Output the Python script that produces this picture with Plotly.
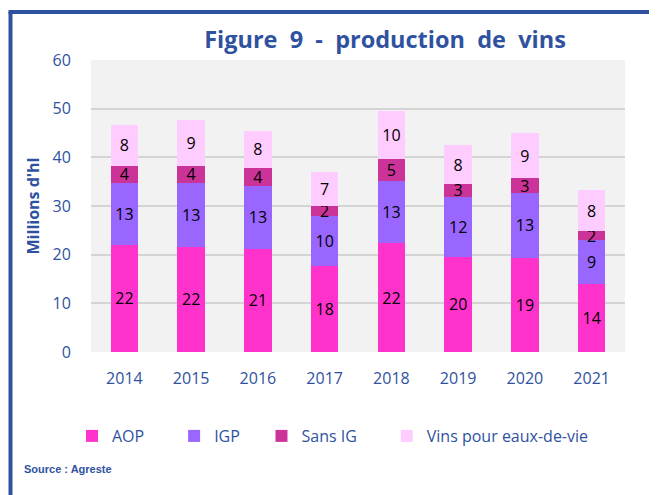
import plotly.graph_objects as go

years = ["2014", "2015", "2016", "2017", "2018", "2019", "2020", "2021"]
aop = [22.0, 21.6, 21.2, 17.6, 22.3, 19.6, 19.4, 13.9]
igp = [12.8, 13.2, 12.9, 10.3, 12.8, 12.3, 13.3, 9.1]
sans_ig = [3.5, 3.5, 3.8, 2.0, 4.6, 2.6, 3.0, 1.8]
vins_edv = [8.4, 9.4, 7.6, 7.0, 9.8, 8.0, 9.2, 8.4]
y_ticks = [0, 10, 20, 30, 40, 50, 60]

BLUE = "#2F52A0"
FONT = "Open Sans"
NB = "\u00a0"

series = [
    ("AOP", aop, "#FF33CC", 6),
    ("IGP", igp, "#9966FF", 4),
    ("Sans IG", sans_ig, "#CC3399", 6),
    ("Vins pour eaux-de-vie", vins_edv, "#FFCCFF", 0),
]

fig = go.Figure()
for name, vals, col, pad in series:
    fig.add_trace(go.Bar(
        x=years, y=vals, name=name + NB * pad,
        marker=dict(color=col, line=dict(width=0)),
        text=[f"{v:.0f}" for v in vals],
        textposition="inside", insidetextanchor="middle", textangle=0,
        textfont=dict(family=FONT, size=16, color="black"),
        cliponaxis=False,
    ))

# page body has an 8px margin: screen coordinate = figure coordinate + 8
OFF = 8
W, H = 657 - OFF, 495 - OFF
L, R, T, B = 91 - OFF, 32, 60 - OFF, 143
pw, ph = W - L - R, H - T - B

def px(x):  # screen x -> paper
    return (x - OFF - L) / pw

def py(y):  # screen y -> paper
    return (H - B - (y - OFF)) / ph

fig.update_layout(
    width=W, height=H,
    margin=dict(l=L, r=R, t=T, b=B, pad=0),
    barmode="stack", bargap=0.587,
    paper_bgcolor="white", plot_bgcolor="#F2F2F2",
    font=dict(family=FONT, color=BLUE, size=16),
    uniformtext=dict(mode="show", minsize=16),
    title=dict(text="<b>Figure  9  -  production  de  vins</b>",
               x=px(385), xanchor="center", xref="paper",
               y=1 - (40 - OFF) / H, yanchor="middle", yref="container",
               font=dict(family=FONT, size=23.5, color=BLUE)),
    xaxis=dict(showgrid=False, ticks="outside", ticklen=12, tickcolor="rgba(0,0,0,0)",
               tickfont=dict(size=16, color=BLUE), showline=False, zeroline=False),
    yaxis=dict(range=[0, 60], tickvals=y_ticks, showgrid=True, gridcolor="#D4D4D4",
               gridwidth=1.5, zeroline=False, ticks="outside", ticklen=16,
               tickcolor="rgba(0,0,0,0)", tickfont=dict(size=16, color=BLUE),
               title=dict(text="<b>Millions d'hl</b>", font=dict(size=16, color=BLUE),
                          standoff=8)),
    legend=dict(orientation="h", x=px(72), xanchor="left", y=py(436), yanchor="middle",
                font=dict(size=16, color=BLUE), traceorder="normal",
                bgcolor="rgba(0,0,0,0)", itemwidth=30),
    showlegend=True,
)

fig.add_annotation(text="<b>Source : Agreste</b>", xref="paper", yref="paper",
                   x=px(22), y=py(469), xanchor="left", yanchor="middle", showarrow=False,
                   font=dict(family="Liberation Sans Narrow, Liberation Sans", size=11, color=BLUE))

# frame
fig.add_shape(type="line", xref="paper", yref="paper", x0=px(10.5), x1=px(10.5),
              y0=py(12), y1=py(495), line=dict(color=BLUE, width=4))
fig.add_shape(type="line", xref="paper", yref="paper", x0=px(8.5), x1=px(657),
              y0=py(12), y1=py(12), line=dict(color=BLUE, width=4))

fig.write_html("out.html")
